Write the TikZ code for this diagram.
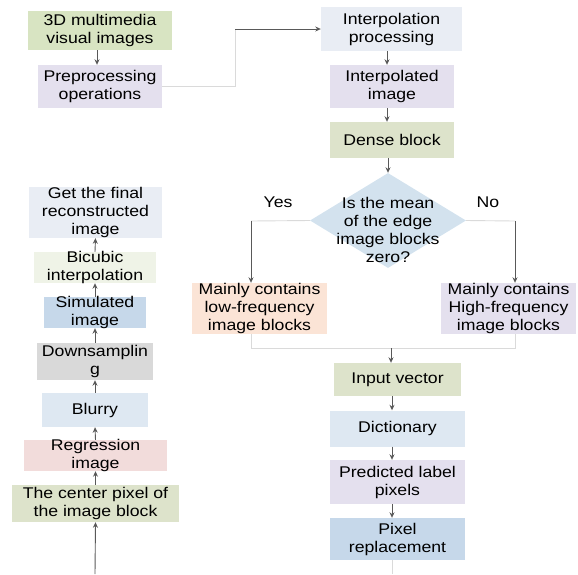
\documentclass[tikz,border=0pt]{standalone}
\usepackage{fontspec}
\setmainfont{Liberation Sans}[FakeStretch=1.14]
\usepackage{tikz}
\usetikzlibrary{arrows.meta,shapes.geometric}

\definecolor{darkline}{HTML}{595959}
\definecolor{liteline}{HTML}{DADADA}
\definecolor{greenA}{HTML}{D8E4C2}
\definecolor{greenB}{HTML}{DDE3CB}
\definecolor{greenC}{HTML}{EFF3E7}
\definecolor{lavender}{HTML}{E4E0EE}
\definecolor{greyblue}{HTML}{E9EDF4}
\definecolor{skyblue}{HTML}{DEE8F2}
\definecolor{midblue}{HTML}{C6D8EA}
\definecolor{diamondblue}{HTML}{D3E2EE}
\definecolor{peach}{HTML}{FBE4D6}
\definecolor{rose}{HTML}{F2DCDB}
\definecolor{softgrey}{HTML}{D9D9D9}

\tikzset{
	block/.style = {rectangle, inner xsep = 0pt, inner ysep = -4pt, align = center, font = \fontsize{15.5}{18}\selectfont},
	arr/.style = {draw = darkline, line width = 0.9pt, -{Stealth[length = 5.5pt, width = 5pt]}},
	lite/.style = {draw = liteline, line width = 0.9pt},
}

\begin{document}
\begin{tikzpicture} [x = 1pt, y = -1pt]
	\useasboundingbox (0,0) rectangle (578,574);
	% right column
	\node [block, fill = greenA, minimum width = 144, minimum height = 39] (img3d) at (100,30.5) {3D multimedia\\visual images};
	\node [block, fill = lavender, minimum width = 124, minimum height = 43] (prep) at (100,86.5) {Preprocessing\\operations};
	\node [block, fill = greyblue, minimum width = 141, minimum height = 44] (interp) at (391.5,29) {Interpolation\\processing};
	\node [block, fill = lavender, minimum width = 124, minimum height = 43] (interpd) at (392,86.5) {Interpolated\\image};
	\node [block, fill = greenB, minimum width = 124, minimum height = 36] (dense) at (392,140) {Dense block};
	\node [diamond, fill = diamondblue, inner sep = 0pt, minimum width = 156, minimum height = 95,
		label = {[block, yshift = -9pt]center:{Is the mean\\of the edge\\image blocks\\zero?}}] (quest) at (388,220.5) {};
	\node [block] (yes) at (278,202) {Yes};
	\node [block] (no) at (488,202) {No};
	\node [block, fill = peach, minimum width = 135, minimum height = 51] (low) at (259.5,308.5) {Mainly contains\\low-frequency\\image blocks};
	\node [block, fill = lavender, minimum width = 135, minimum height = 51] (high) at (508.5,308.5) {Mainly contains\\High-frequency\\image blocks};
	\node [block, fill = greenB, minimum width = 127, minimum height = 33] (vec) at (397.5,379.5) {Input vector};
	\node [block, fill = skyblue, minimum width = 135, minimum height = 36] (dict) at (397.5,428.5) {Dictionary};
	\node [block, fill = lavender, minimum width = 135, minimum height = 44] (label) at (397.5,482) {Predicted label\\pixels};
	\node [block, fill = midblue, minimum width = 135, minimum height = 42] (rep) at (397.5,539) {Pixel\\replacement};
	% left column
	\node [block, fill = greyblue, minimum width = 133, minimum height = 51] (final) at (95.5,212.5) {Get the final\\reconstructed\\image};
	\node [block, fill = greenC, minimum width = 122, minimum height = 31] (bicubic) at (95,267.5) {Bicubic\\interpolation};
	\node [block, fill = midblue, minimum width = 102, minimum height = 31] (simul) at (95,312.5) {Simulated\\image};
	\node [block, fill = softgrey, minimum width = 116, minimum height = 37] (down) at (95,361.5) {Downsamplin\\g};
	\node [block, fill = skyblue, minimum width = 106, minimum height = 34] (blur) at (95,410) {Blurry};
	\node [block, fill = rose, minimum width = 143, minimum height = 31] (regress) at (95.5,455.5) {Regression\\image};
	\node [block, fill = greenB, minimum width = 167, minimum height = 37] (centre) at (95.5,503.5) {The center pixel of\\the image block};

	\coordinate (bend) at (235,29);
	\coordinate (yesturn) at (251,221);
	\coordinate (noturn) at (515,221);
	\coordinate (join) at (391,348);
	\coordinate (tail) at (392,574);
	\coordinate (start) at (95,574);

	\draw [arr] ([xshift = -3pt]img3d.south) -- ([xshift = -3pt]prep.north);
	\draw [lite] (prep.east) -- (prep.east -| bend) -- (bend);
	\draw [arr] (bend) -- (interp.west);
	\draw [arr] ([xshift = -4.5pt]interp.south) -- ([xshift = -5pt]interpd.north);
	\draw [arr] ([xshift = -5pt]interpd.south) -- ([xshift = -5pt]dense.north);
	\draw [arr] ([xshift = -4pt]dense.south) -- (quest.north);
	\draw [lite] (quest.west) -- (yesturn);
	\draw [arr] (yesturn) -- (yesturn |- low.north);
	\draw [lite] (quest.east) -- (noturn);
	\draw [arr] (noturn) -- (noturn |- high.north);
	\draw [lite] (yesturn |- low.south) -- (yesturn |- join) -- (noturn |- join) -- (noturn |- high.south);
	\draw [arr] (join) -- (join |- vec.north);
	\draw [arr] ([xshift = -5.5pt]vec.south) -- ([xshift = -5.5pt]dict.north);
	\draw [arr] ([xshift = -5.5pt]dict.south) -- ([xshift = -5.5pt]label.north);
	\draw [arr] ([xshift = -5.5pt]label.south) -- ([xshift = -5.5pt]rep.north);
	\draw [lite] (tail |- rep.south) -- (tail);

	\draw [arr] (start) -- (centre.south);
	\draw [arr] (centre.north) -- (regress.south);
	\draw [arr] (regress.north) -- (blur.south);
	\draw [arr] (blur.north) -- (down.south);
	\draw [arr] (down.north) -- (simul.south);
	\draw [arr] (simul.north) -- (bicubic.south);
	\draw [arr] (bicubic.north) -- (final.south);
\end{tikzpicture}
\end{document}
